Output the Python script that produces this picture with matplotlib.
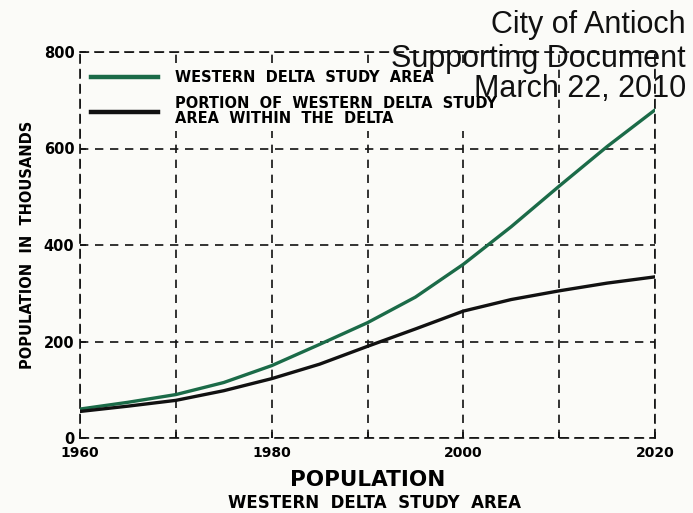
import matplotlib
matplotlib.use("Agg")
import matplotlib.pyplot as plt
from matplotlib.lines import Line2D

# Data (population in thousands)
years = [1960, 1965, 1970, 1975, 1980, 1985, 1990, 1995, 2000, 2005, 2010, 2015, 2020]
western_delta = [60, 74, 90, 115, 150, 194, 239, 292, 360, 438, 522, 604, 680]
within_delta = [55, 66, 78, 98, 123, 153, 190, 226, 263, 287, 305, 321, 334]

xticks = [1960, 1970, 1980, 1990, 2000, 2010, 2020]
xticklabels = ["1960", "", "1980", "", "2000", "", "2020"]
yticks = [0, 200, 400, 600, 800]
yticklabels = ["0", "200", "400", "600", "800"]

legend_labels = ["WESTERN  DELTA  STUDY  AREA",
                 "PORTION  OF  WESTERN  DELTA  STUDY\nAREA  WITHIN  THE  DELTA"]

GREEN = "#1b6b48"
BG = "#fbfbf8"

fig = plt.figure(figsize=(6.93, 5.13), dpi=100, facecolor=BG)
ax = fig.add_axes([80/693, 1-438/513, 575/693, 386/513])
ax.set_facecolor(BG)

ax.plot(years, western_delta, color=GREEN, lw=2.4, solid_capstyle="round", zorder=3)
ax.plot(years, within_delta, color="#111111", lw=2.4, solid_capstyle="round", zorder=3)

ax.set_xlim(1960, 2020)
ax.set_ylim(0, 800)
ax.set_xticks(xticks)
ax.set_xticklabels(xticklabels, fontweight="bold", fontsize=10)
ax.set_yticks(yticks)
ax.set_yticklabels(yticklabels, fontweight="bold", fontsize=10.5)
ax.tick_params(axis="both", length=4, direction="in", width=1.2, color="#111111")
ax.tick_params(axis="x", pad=6)
ax.tick_params(axis="y", pad=4)

ax.grid(True, color="#111111", linestyle=(0, (5, 4)), linewidth=1.2)
for s in ax.spines.values():
    s.set_linestyle((0, (5, 4)))
    s.set_linewidth(1.2)
    s.set_color("#111111")

ax.set_ylabel("POPULATION  IN  THOUSANDS", fontweight="bold", fontsize=10.5, labelpad=6)

handles = [Line2D([0], [0], color=GREEN, lw=3.2),
           Line2D([0], [0], color="#111111", lw=3.2)]
leg = ax.legend(handles, legend_labels, loc="upper left",
                bbox_to_anchor=(-0.002, 0.983), frameon=True, fancybox=False,
                handlelength=4.6, handletextpad=1.2, labelspacing=0.75,
                borderpad=0.3, prop={"weight": "bold", "size": 10.5})
leg.get_frame().set_facecolor(BG)
leg.get_frame().set_edgecolor("none")
leg.get_frame().set_alpha(1.0)
leg.set_zorder(5)
for t in leg.get_texts():
    t.set_linespacing(1.0)

fig.text(368/693, 1-480/513, "POPULATION", ha="center", va="center",
         fontweight="bold", fontsize=15.5)
fig.text(374/693, 1-503/513, "WESTERN  DELTA  STUDY  AREA", ha="center", va="center",
         fontweight="bold", fontsize=12)

for txt, yb in [("City of Antioch", 33), ("Supporting Document", 67), ("March 22, 2010", 97)]:
    fig.text(686/693, 1-yb/513, txt, ha="right", va="baseline",
             fontfamily="Liberation Sans", fontsize=22, color="#111111", zorder=10)

fig.savefig("out.png", dpi=100, facecolor=BG)
